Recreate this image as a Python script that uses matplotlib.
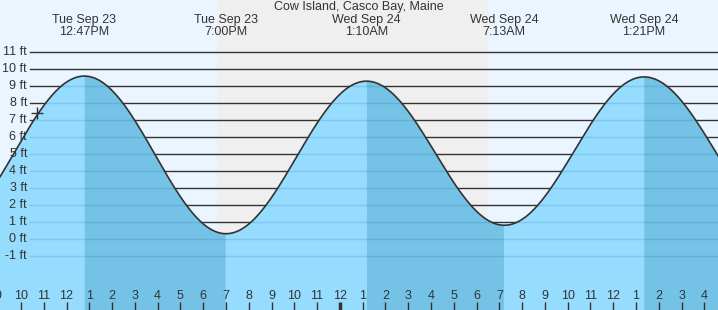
import numpy as np
import matplotlib
matplotlib.use("Agg")
import matplotlib.pyplot as plt
from matplotlib.patches import Polygon
from matplotlib.transforms import blended_transform_factory

# ---- data (hours since Tue Sep 23 00:00, feet) ----
extreme_times = [6.60, 12.783, 19.0, 25.167, 31.217, 37.35, 43.60]
extreme_heights = [0.5, 9.6, 0.3, 9.3, 0.8, 9.55, 0.8]
label_times = [12.783, 19.0, 25.167, 31.217, 37.35]
label_days = ["Tue Sep 23", "Tue Sep 23", "Wed Sep 24", "Wed Sep 24", "Wed Sep 24"]
label_clock = ["12:47PM", "7:00PM", "1:10AM", "7:13AM", "1:21PM"]
title = "Cow Island, Casco Bay, Maine"
night_start, night_end = 18.60, 30.48
now_time, now_height = 10.72, 7.4
y_ticks = list(range(-1, 12))
hour_ticks = list(range(9, 41))
x_min, x_max = 9.079, 40.598
y_min, y_max = -4.20, 14.088

W, H = 718, 310
fig = plt.figure(figsize=(W / 100, H / 100), dpi=100)
ax = fig.add_axes([0, 0, 1, 1])
ax.set_xlim(x_min, x_max)
ax.set_ylim(y_min, y_max)
ax.axis("off")
plt.rcParams['font.family'] = ['Liberation Sans', 'DejaVu Sans']
txt = "#333333"
fs = 9

# background
ax.axvspan(x_min, x_max, color="#eaf5ff", zorder=0, lw=0)
ax.axvspan(night_start, night_end, color="#efefef", zorder=0.1, lw=0)

# tide curve via cosine between extremes
t = np.linspace(x_min, x_max, 1500)
h = np.empty_like(t)
for i in range(len(extreme_times) - 1):
    t0, t1 = extreme_times[i], extreme_times[i + 1]
    h0, h1 = extreme_heights[i], extreme_heights[i + 1]
    m = (t >= t0) & (t <= t1)
    f = (1 - np.cos(np.pi * (t[m] - t0) / (t1 - t0))) / 2
    h[m] = h0 + (h1 - h0) * f
falling = np.zeros_like(t, dtype=bool)
for i in range(len(extreme_times) - 1):
    if extreme_heights[i] > extreme_heights[i + 1]:
        falling |= (t >= extreme_times[i]) & (t <= extreme_times[i + 1])

# dark gridlines
gx0 = 30 / W
for y in y_ticks:
    ax.axhline(y, xmin=gx0, xmax=1, color="#333333", lw=1.0, zorder=1)

ax.fill_between(t, y_min, h, color="#96dcff", lw=0, zorder=2)
ax.fill_between(t, y_min, h, where=falling, color="#74c3e6", lw=0, zorder=2.1)

verts = np.column_stack([np.r_[t, x_max, x_min], np.r_[h, y_min, y_min]])
poly = Polygon(verts, closed=True, transform=ax.transData, facecolor="none", edgecolor="none")
ax.add_patch(poly)
for y in y_ticks:
    ln = ax.axhline(y, xmin=gx0, xmax=1, color="#1f6f99", alpha=0.2, lw=1.0, zorder=3)
    ln.set_clip_path(poly)

# y labels
bt = blended_transform_factory(ax.transAxes, ax.transData)
for y in y_ticks:
    ax.text(27 / W, y, f"{y} ft", transform=bt, ha="right", va="center",
            fontsize=fs, color=txt, zorder=3.5)

ax.plot(t, h, color="#333333", lw=1.2, zorder=4)
ax.plot([now_time], [now_height], marker="+", ms=9, mew=1.0, color="#333333", zorder=4.5)

# top labels
tt = blended_transform_factory(ax.transData, ax.transAxes)
ax.text(0.5, 1 - 7 / H, title, transform=ax.transAxes, ha="center", va="center",
        fontsize=fs, color=txt, zorder=6)
for lt, d, c in zip(label_times, label_days, label_clock):
    ax.text(lt, 1 - 20 / H, d, transform=tt, ha="center", va="center", fontsize=fs, color=txt, zorder=6)
    ax.text(lt, 1 - 32 / H, c, transform=tt, ha="center", va="center", fontsize=fs, color=txt, zorder=6)

# bottom hour labels and ticks
for hr in hour_ticks:
    lab = hr % 12
    lab = 12 if lab == 0 else lab
    ax.text(hr, 1 - 296 / H, str(lab), transform=tt, ha="center", va="center",
            fontsize=fs, color=txt, zorder=6)
    ax.plot([hr, hr], [0, 8 / H], transform=tt, color="#333333",
            lw=2.5 if hr % 24 == 0 else 1.0, zorder=6, solid_capstyle="butt")

fig.savefig("out.png", dpi=100)
